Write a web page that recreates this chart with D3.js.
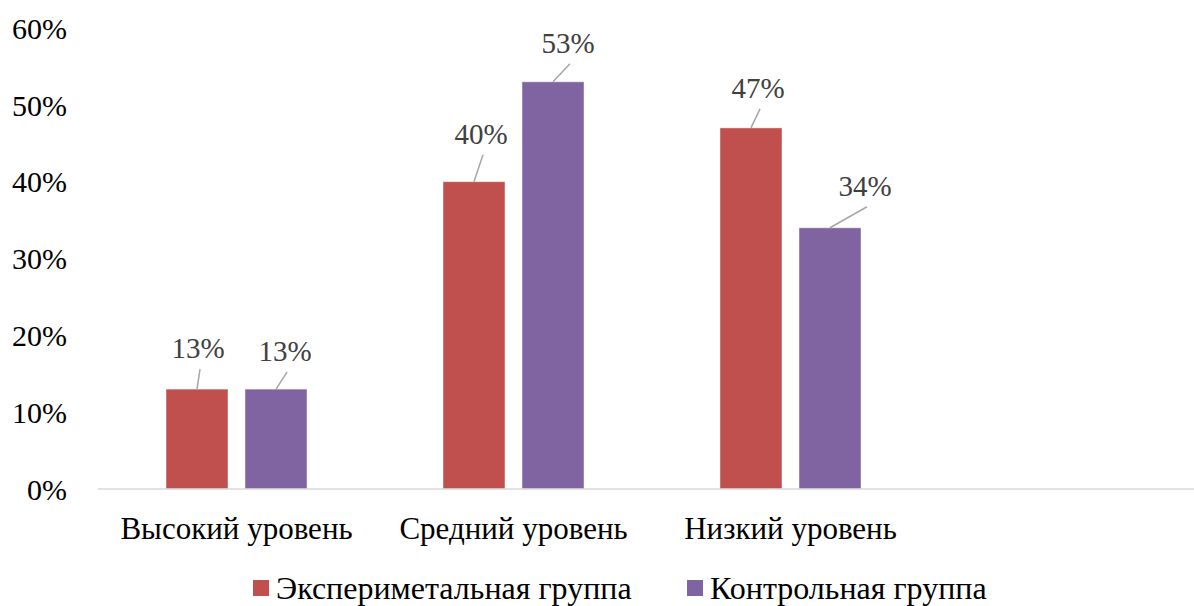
<!DOCTYPE html>
<html>
<head>
<meta charset="utf-8">
<script src="https://cdn.jsdelivr.net/npm/d3@7"></script>
<style>
  html, body { margin: 0; padding: 0; background: #fff; }
  svg { display: block; }
</style>
</head>
<body>
<svg id="chart" width="1194" height="606"></svg>
<script>
// Levels on the x axis
const categories = ["Высокий уровень", "Средний уровень", "Низкий уровень"];
// Groups shown as paired bars
const seriesNames = ["Экспериметальная группа", "Контрольная группа"];
// Share of each group per level, percent
const experimental = [13, 40, 47];
const control = [13, 53, 34];
// Y axis tick values, percent
const yTicks = [0, 10, 20, 30, 40, 50, 60];

// Where each value label's leader line ends, relative to the top centre of its bar
const leaderEnds = [
  [[3, -20], [11, -17]],
  [[9, -27], [17, -18]],
  [[9, -19], [37, -21]]
];

const FONT = '"Liberation Serif", "Times New Roman", serif';
const colors = ["#C0504D", "#8064A2"];
const svg = d3.select("#chart");
const W = 1194;
const left = 98, bandStep = 277;

const y = d3.scaleLinear().domain([0, 60]).range([489, 28]);
const x0 = d3.scaleBand().domain(categories).range([left, left + bandStep * categories.length]);
const x1 = d3.scaleBand().domain(seriesNames).range([68, 209]).paddingInner(17 / 79);

const values = [experimental, control];

// Y axis labels
const yAxis = d3.axisLeft(y).tickValues(yTicks).tickSize(0).tickPadding(0)
  .tickFormat(d => d + "%");
const yg = svg.append("g").attr("transform", "translate(67,0)").call(yAxis);
yg.select(".domain").remove();
yg.selectAll("text")
  .style("font-family", FONT)
  .style("font-size", "30px").attr("fill", "#000").attr("dy", "0.34em");

// Bars
const groups = svg.append("g").selectAll("g")
  .data(categories).join("g")
  .attr("transform", d => `translate(${x0(d)},0)`);

groups.selectAll("rect")
  .data((c, i) => seriesNames.map((s, j) => ({ s, j, v: values[j][i] })))
  .join("rect")
  .attr("x", d => x1(d.s))
  .attr("y", d => y(d.v))
  .attr("width", x1.bandwidth())
  .attr("height", d => y(0) - y(d.v))
  .attr("fill", d => colors[d.j])
  .attr("stroke", "rgba(255,255,255,0.45)")
  .attr("stroke-width", 1);

// X axis line
svg.append("line")
  .attr("x1", left).attr("x2", W)
  .attr("y1", y(0)).attr("y2", y(0))
  .attr("stroke", "#D9D9D9").attr("stroke-width", 1.5);

// Category labels
const xAxis = d3.axisBottom(x0).tickSize(0).tickPadding(0);
const xg = svg.append("g").attr("transform", `translate(0,${y(0)})`).call(xAxis);
xg.select(".domain").remove();
xg.selectAll("text")
  .style("font-family", FONT)
  .style("font-size", "31px").attr("fill", "#000")
  .attr("dy", 0).attr("y", 50);

// Value labels with leader lines
const labelLayer = svg.append("g");
categories.forEach((c, i) => {
  seriesNames.forEach((s, j) => {
    const v = values[j][i];
    const cx = x0(c) + x1(s) + x1.bandwidth() / 2;
    const cy = y(v);
    const [dx, dy] = leaderEnds[i][j];
    labelLayer.append("line")
      .attr("x1", cx).attr("y1", cy)
      .attr("x2", cx + dx).attr("y2", cy + dy)
      .attr("stroke", "#A6A6A6").attr("stroke-width", 1.5);
    labelLayer.append("text")
      .attr("x", cx + dx - 2).attr("y", cy + dy - 11)
      .attr("text-anchor", "middle")
      .style("font-family", FONT)
      .style("font-size", "29px").attr("fill", "#404040")
      .text(v + "%");
  });
});

// Legend
const legendItems = [
  { name: seriesNames[0], color: colors[0], x: 253 },
  { name: seriesNames[1], color: colors[1], x: 687 }
];
const lg = svg.append("g").selectAll("g").data(legendItems).join("g")
  .attr("transform", d => `translate(${d.x},580)`);
lg.append("rect").attr("width", 16).attr("height", 16).attr("fill", d => d.color);
lg.append("text").attr("x", 23).attr("y", 19)
  .style("font-family", FONT)
  .style("font-size", "32px").attr("fill", "#000")
  .text(d => d.name);
</script>
</body>
</html>
